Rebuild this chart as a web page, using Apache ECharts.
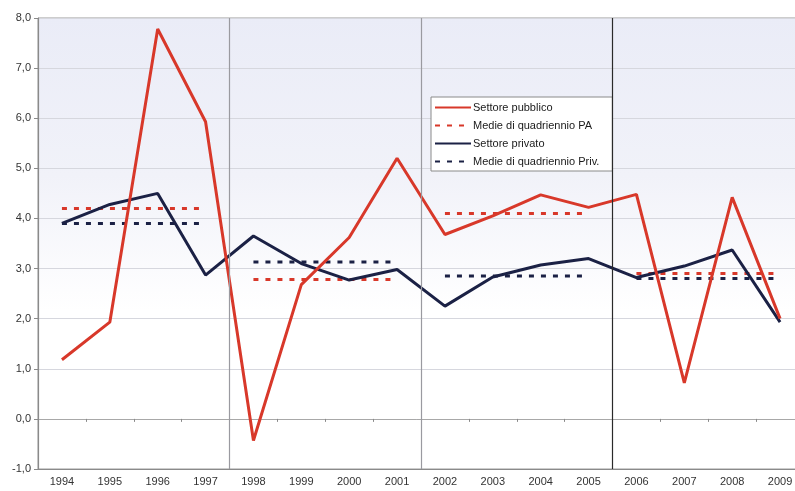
<!DOCTYPE html>
<html>
<head>
<meta charset="utf-8">
<script src="https://cdn.jsdelivr.net/npm/echarts@6/dist/echarts.min.js"></script>
<style>
  html, body { margin: 0; padding: 0; background: #fff; }
  #chart { width: 795px; height: 491px; }
</style>
</head>
<body>
<div id="chart"></div>
<script>
// anni e valori
const anni = ['1994', '1995', '1996', '1997', '1998', '1999', '2000', '2001',
  '2002', '2003', '2004', '2005', '2006', '2007', '2008', '2009']
const settorePubblico = [1.18, 1.93, 7.78, 5.93, -0.43, 2.68, 3.62, 5.2,
  3.68, 4.05, 4.47, 4.22, 4.48, 0.72, 4.42, 2.0]
const settorePrivato = [3.9, 4.28, 4.5, 2.87, 3.65, 3.1, 2.77, 2.98,
  2.25, 2.83, 3.07, 3.2, 2.82, 3.05, 3.37, 1.93]
// medie per quadriennio
const mediePA = [4.2, 2.78, 4.1, 2.9]
const mediePriv = [3.9, 3.13, 2.85, 2.8]
const annoPerQuadriennio = 4
const yTicks = [-1, 0, 1, 2, 3, 4, 5, 6, 7, 8]

const ROSSO = '#d8382a'
const BLU = '#1b2145'

// una serie per quadriennio, cosi' le medie non si uniscono tra loro
function serieMedie(nome, medie, colore) {
  return medie.map((v, k) => {
    const data = anni.map((a, i) =>
      Math.floor(i / annoPerQuadriennio) === k ? v : null)
    return {
      name: nome,
      type: 'line',
      data: data,
      symbol: 'none',
      connectNulls: false,
      lineStyle: { color: colore, width: 3, type: [5, 7] },
      itemStyle: { color: colore },
      z: 2
    }
  })
}

const separatori = mediePA.slice(1).map((m, k) => ({
  xAxis: (k + 1) * annoPerQuadriennio,
  lineStyle: { color: k === 2 ? '#2a2a2a' : '#9a9aa0', width: 1.2, type: 'solid' }
}))

const chart = echarts.init(document.getElementById('chart'))
chart.setOption({
  animation: false,
  textStyle: { fontFamily: 'Liberation Sans, Arial, sans-serif' },
  grid: {
    left: 38,
    right: -9,
    top: 18,
    bottom: 22,
    outerBoundsMode: 'none',
    show: true,
    borderColor: '#9a9a9a',
    borderWidth: 1,
    backgroundColor: new echarts.graphic.LinearGradient(0, 0, 0, 1, [
      { offset: 0, color: '#eaecf7' },
      { offset: 0.35, color: '#f1f2f9' },
      { offset: 0.65, color: '#ffffff' },
      { offset: 1, color: '#ffffff' }
    ])
  },
  legend: {
    orient: 'vertical',
    left: 431,
    top: 97,
    padding: [5, 13, 4, 3],
    itemWidth: 36,
    itemHeight: 10,
    itemGap: 7,
    backgroundColor: '#ffffff',
    borderColor: '#8a8a8a',
    borderWidth: 1,
    itemStyle: { opacity: 0 },
    data: ['Settore pubblico', 'Medie di quadriennio PA', 'Settore privato', 'Medie di quadriennio Priv.'],
    textStyle: { fontSize: 11, color: '#1a1a1a', lineHeight: 10, padding: [0, 0, 0, -3] }
  },
  xAxis: [
    {
      type: 'category',
      data: anni,
      position: 'bottom',
      boundaryGap: true,
      axisLine: { onZero: false, lineStyle: { color: '#8a8a8a', width: 1.2 } },
      axisTick: { show: false },
      axisLabel: { color: '#333', fontSize: 11, margin: 7, interval: 0 },
      splitLine: { show: false }
    },
    {
      type: 'category',
      data: anni,
      position: 'bottom',
      boundaryGap: true,
      axisLine: { onZero: true, lineStyle: { color: '#a8a8a8', width: 1 } },
      axisTick: { show: true, length: 3, lineStyle: { color: '#8a8a8a' } },
      axisLabel: { show: false },
      splitLine: { show: false }
    },
    {
      type: 'value',
      min: 0,
      max: anni.length,
      show: false
    }
  ],
  yAxis: {
    type: 'value',
    min: yTicks[0],
    max: yTicks[yTicks.length - 1],
    interval: 1,
    axisLine: { show: true, lineStyle: { color: '#8a8a8a', width: 1.2 } },
    axisTick: { show: true, length: 4, lineStyle: { color: '#8a8a8a' } },
    axisLabel: {
      color: '#333',
      fontSize: 11,
      margin: 7,
      formatter: v => v.toFixed(1).replace('.', ',')
    },
    splitLine: { lineStyle: { color: '#d6d7de', width: 1 } }
  },
  series: [
    {
      name: 'separatori',
      type: 'line',
      xAxisIndex: 2,
      data: [],
      silent: true,
      markLine: { symbol: 'none', silent: true, label: { show: false }, data: separatori }
    },
    ...serieMedie('Medie di quadriennio PA', mediePA, ROSSO),
    ...serieMedie('Medie di quadriennio Priv.', mediePriv, BLU),
    {
      name: 'Settore privato',
      type: 'line',
      data: settorePrivato,
      symbol: 'none',
      lineStyle: { color: BLU, width: 3 },
      itemStyle: { color: BLU },
      z: 3
    },
    {
      name: 'Settore pubblico',
      type: 'line',
      data: settorePubblico,
      symbol: 'none',
      lineStyle: { color: ROSSO, width: 3 },
      itemStyle: { color: ROSSO },
      z: 4
    }
  ]
})
</script>
</body>
</html>
